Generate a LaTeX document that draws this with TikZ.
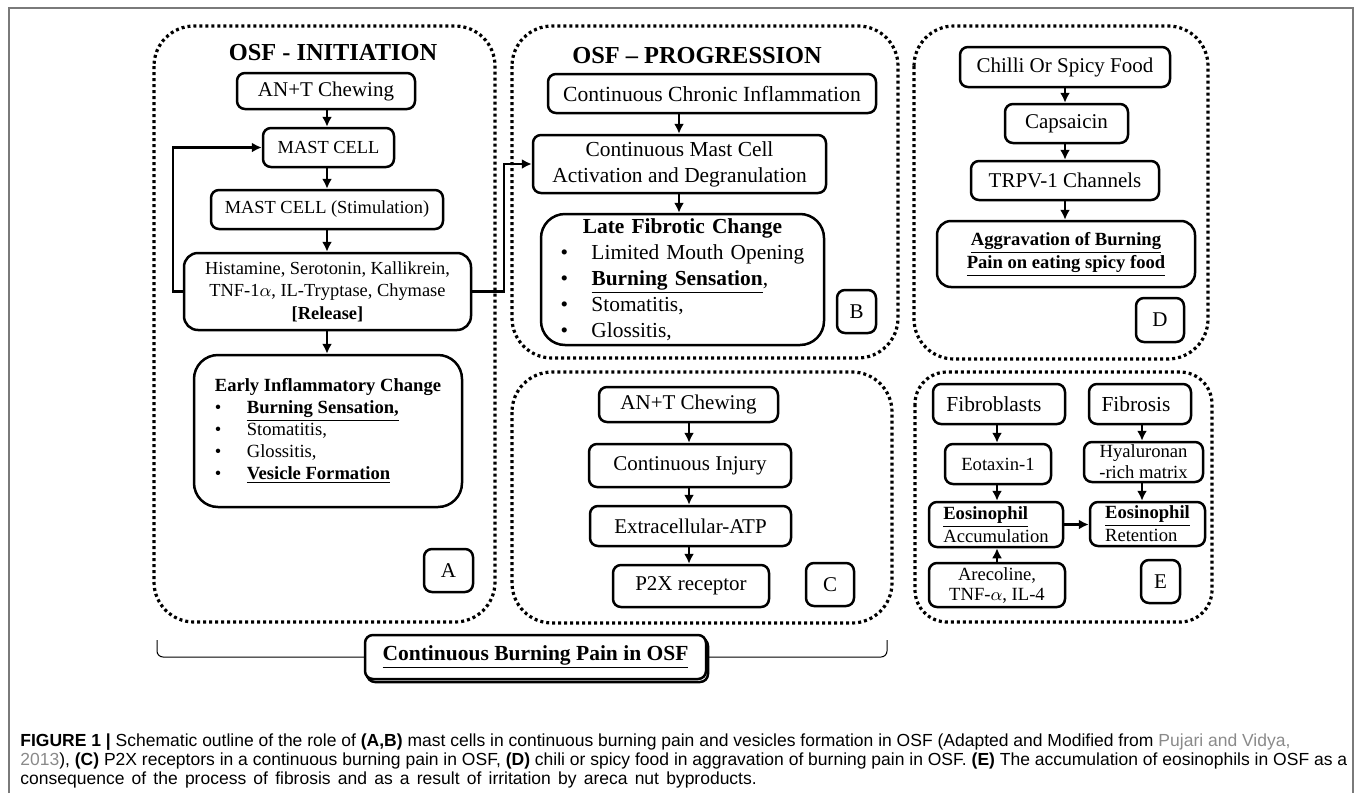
\documentclass[tikz,border=0pt]{standalone}
\usepackage{fontspec}
\setmainfont{Liberation Serif}
\newfontfamily\capfont{Liberation Sans}
\usetikzlibrary{arrows.meta}
\definecolor{capgray}{HTML}{8A8A8A}
\definecolor{framegray}{HTML}{7A7A7A}
\begin{document}
\begin{tikzpicture}[x=0.5pt,y=-0.5pt,
  box/.style={draw, line width=1.25pt, rounded corners=4pt, align=center, inner sep=0pt, font=\fontsize{10.5}{12}\selectfont},
  arr/.style={line width=1.1pt, -{Latex[length=5pt,width=5pt]}},
  outer/.style={line width=1.6pt, dash pattern=on 1.5pt off 1.5pt, rounded corners=20pt},
  ttl/.style={font=\bfseries\fontsize{12.2}{15}\selectfont, inner sep=0pt},
  capline/.style={anchor=base west, inner sep=0pt, font=\capfont\fontsize{8.75}{10}\selectfont},
  brk/.style={line width=0.5pt, rounded corners=3pt},
]
\useasboundingbox (0,0) rectangle (1355,793);
% frame
\draw[framegray, line width=1pt] (9,793) -- (9,8) -- (1353,8) -- (1353,793);

% outer dotted panels
\draw[outer] (154,26) rectangle (495,622);
\draw[outer] (512,26) rectangle (898,358);
\draw[outer] (512,372) rectangle (892,623);
\draw[outer] (914,26) rectangle (1208,359);
\draw[outer, rounded corners=16pt] (915,372) rectangle (1212,622);

% ---------- Panel A ----------
\node[ttl] (ta) at (333,53) {OSF - INITIATION};
\node[box, minimum width=89pt, minimum height=18pt] (a1) at (326,91) {AN+T Chewing};
\node[box, minimum width=65.5pt, minimum height=19.5pt, font=\fontsize{9.2}{11}\selectfont] (a2) at (328.5,147.5) {MAST CELL};
\node[box, minimum width=116pt, minimum height=19.5pt, font=\fontsize{9.2}{11}\selectfont] (a3) at (327,209.5) {MAST CELL (Stimulation)};
\node[box, minimum width=143.5pt, minimum height=38.5pt, rounded corners=7pt, font=\fontsize{9.2}{11.2}\selectfont] (a4) at (327.5,291.5)
  {Histamine, Serotonin, Kallikrein,\\ TNF-1$\alpha$, IL-Tryptase, Chymase\\ \textbf{[Release]}};
\node[box, minimum width=134pt, minimum height=76pt, rounded corners=12pt, align=left, font=\fontsize{9.3}{11}\selectfont] (a5) at (328,431)
  {\textbf{Early Inflammatory Change}\\
   \makebox[16pt][l]{\textbullet}\underline{\textbf{Burning Sensation,}}\\
   \makebox[16pt][l]{\textbullet}Stomatitis,\\
   \makebox[16pt][l]{\textbullet}Glossitis,\\
   \makebox[16pt][l]{\textbullet}\underline{\textbf{Vesicle Formation}}};
\node[box, minimum width=24.5pt, minimum height=21.5pt] (la) at (448.5,570.5) {A};
\coordinate (ax) at (327,0);
\draw[arr] (a1.south -| ax) -- (a2.north -| ax);
\draw[arr] (a2.south -| ax) -- (a3.north -| ax);
\draw[arr] (a3.south -| ax) -- (a4.north -| ax);
\draw[arr] (a4.south -| ax) -- (a5.north -| ax);
\draw[arr] (a4.west) -- ++(-10,0) |- (a2.west);

% ---------- Panel B ----------
\node[ttl] (tb) at (697,56) {OSF -- PROGRESSION};
\node[box, minimum width=164pt, minimum height=19.5pt, font=\fontsize{10.8}{13}\selectfont] (b1) at (712,93.5) {Continuous Chronic Inflammation};
\node[box, minimum width=146.5pt, minimum height=29pt, font=\fontsize{10.7}{13}\selectfont] (b2) at (679.5,164) {Continuous Mast Cell\\ Activation and Degranulation};
\node[box, minimum width=141.5pt, minimum height=65.5pt, rounded corners=12pt, align=left, text width=122pt, font=\fontsize{10.7}{13}\selectfont] (b3) at (682.5,279.5)
  {\makebox[\linewidth][c]{\textbf{Late Fibrotic Change}}\\
   \makebox[15.5pt][l]{\textbullet}Limited Mouth Opening\\
   \makebox[15.5pt][l]{\textbullet}\underline{\textbf{Burning Sensation}},\\
   \makebox[15.5pt][l]{\textbullet}Stomatitis,\\
   \makebox[15.5pt][l]{\textbullet}Glossitis,};
\node[box, minimum width=19.5pt, minimum height=21.5pt] (lb) at (856.5,311.5) {B};
\coordinate (bx) at (679,0);
\draw[arr] (b1.south -| bx) -- (b2.north -| bx);
\draw[arr] (b2.south -| bx) -- (b3.north -| bx);
\draw[arr] (a4.east) -- (504,291.5) |- (b2.west);

% ---------- Panel C ----------
\begin{scope}[every node/.append style={font=\fontsize{11.5}{13}\selectfont}]
\node[box, minimum width=89.5pt, minimum height=17.5pt] (c1) at (688.5,404.5) {AN+T Chewing};
\node[box, minimum width=101pt, minimum height=21.5pt] (c2) at (690,465.5) {Continuous Injury};
\node[box, minimum width=100.5pt, minimum height=20pt] (c3) at (690.5,526) {Extracellular-ATP};
\node[box, minimum width=78pt, minimum height=21pt] (c4) at (691,586) {P2X receptor};
\end{scope}
\node[box, minimum width=24pt, minimum height=21.5pt] (lc) at (830,584.5) {C};
\coordinate (cx) at (689,0);
\draw[arr] (c1.south -| cx) -- (c2.north -| cx);
\draw[arr] (c2.south -| cx) -- (c3.north -| cx);
\draw[arr] (c3.south -| cx) -- (c4.north -| cx);

% ---------- Panel D ----------
\begin{scope}[every node/.append style={font=\fontsize{12}{14}\selectfont}]
\node[box, minimum width=105pt, minimum height=20pt] (d1) at (1065,67) {Chilli Or Spicy Food};
\node[box, minimum width=61.5pt, minimum height=19.5pt] (d2) at (1066.5,123.5) {Capsaicin};
\node[box, minimum width=94pt, minimum height=19.5pt] (d3) at (1065,180.5) {TRPV-1 Channels};
\end{scope}
\node[box, minimum width=129pt, minimum height=33pt, rounded corners=7pt, font=\bfseries\fontsize{9.3}{11.5}\selectfont] (d4) at (1066,254)
  {\underline{Aggravation of Burning}\\ \underline{Pain on eating spicy food}};
\node[box, minimum width=24pt, minimum height=22pt] (ld) at (1160,320) {D};
\coordinate (dx) at (1065,0);
\draw[arr] (d1.south -| dx) -- (d2.north -| dx);
\draw[arr] (d2.south -| dx) -- (d3.north -| dx);
\draw[arr] (d3.south -| dx) -- (d4.north -| dx);

% ---------- Panel E ----------
\node[box, minimum width=66pt, minimum height=20pt, font=\fontsize{10.7}{13}\selectfont] (e1) at (999,404) {Fibroblasts\hspace*{5pt}};
\node[box, minimum width=51pt, minimum height=20pt, font=\fontsize{10.7}{13}\selectfont] (e2) at (1140,404) {Fibrosis\hspace*{4pt}};
\node[box, minimum width=53pt, minimum height=20pt, font=\fontsize{9.3}{11}\selectfont] (e3) at (998,464) {Eotaxin-1};
\node[box, minimum width=59.5pt, minimum height=20pt, font=\fontsize{9.3}{10.5}\selectfont] (e4) at (1143.5,462) {Hyaluronan\\ -rich matrix};
\node[box, minimum width=67pt, minimum height=22.5pt, align=left, font=\fontsize{9.3}{11.5}\selectfont] (e5) at (996,524.5) {\underline{\textbf{Eosinophil}}\\ Accumulation};
\node[box, minimum width=57.5pt, minimum height=22pt, align=left, font=\fontsize{9.3}{11.5}\selectfont] (e6) at (1147.5,524) {\underline{\textbf{Eosinophil}}\\ Retention};
\node[box, minimum width=68pt, minimum height=22pt, font=\fontsize{9.3}{10}\selectfont] (e7) at (997,585) {Arecoline,\\ TNF-$\alpha$, IL-4};
\node[box, minimum width=19.5pt, minimum height=21.5pt] (le) at (1160.5,581.5) {E};
\coordinate (ex1) at (997,0);
\coordinate (ex2) at (1142,0);
\draw[arr] (e1.south -| ex1) -- (e3.north -| ex1);
\draw[arr] (e3.south -| ex1) -- (e5.north -| ex1);
\draw[arr] (e7.north -| ex1) -- (e5.south -| ex1);
\draw[arr] (e2.south -| ex2) -- (e4.north -| ex2);
\draw[arr] (e4.south -| ex2) -- (e6.north -| ex2);
\draw[arr] (e5.east) -- (e6.west |- e5.east);

% ---------- Bottom summary ----------
\draw[line width=1.25pt, rounded corners=4pt] (367,638) rectangle (708,682);
\node[box, fill=white, minimum width=170.5pt, minimum height=22pt, font=\bfseries\fontsize{10.75}{13}\selectfont] (bb) at (535.5,657) {\underline{Continuous Burning Pain in OSF}};
\coordinate (bl) at (157,640);
\coordinate (br) at (887,640);
\draw[brk] (bl) |- (bb.west);
\draw[brk] (bb.east) -| (br);

% ---------- Caption ----------
\node[capline] (cap1) at (20,746) {\textbf{FIGURE 1 |} Schematic outline of the role of \textbf{(A,B)} mast cells in continuous burning pain and vesicles formation in OSF (Adapted and Modified from \textcolor{capgray}{Pujari and Vidya,}};
\node[capline] (cap2) at (20,765.5) {\textcolor{capgray}{2013}), \textbf{(C)} P2X receptors in a continuous burning pain in OSF, \textbf{(D)} chili or spicy food in aggravation of burning pain in OSF. \textbf{(E)} The accumulation of eosinophils in OSF as a};
\node[capline] (cap3) at (20,784.5) {\spaceskip=3.6pt\relax consequence of the process of fibrosis and as a result of irritation by areca nut byproducts.};
\end{tikzpicture}
\end{document}
